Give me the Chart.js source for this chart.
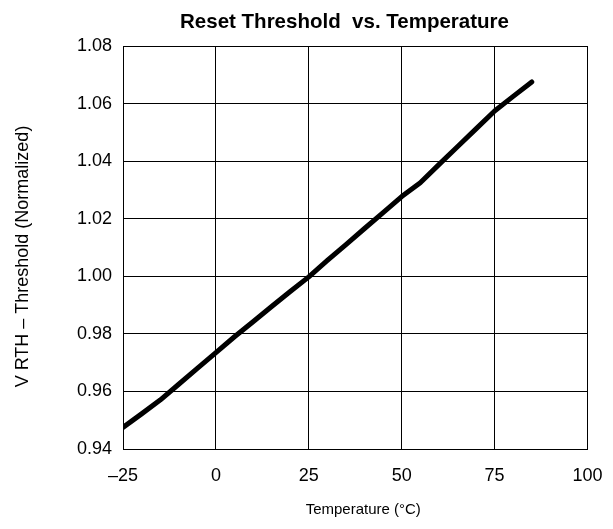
<!DOCTYPE html>
<html>
<head>
<meta charset="utf-8">
<script src="https://cdn.jsdelivr.net/npm/chart.js@4/dist/chart.umd.min.js"></script>
<style>
  html, body { margin: 0; padding: 0; background: #ffffff; }
  #wrap { width: 613px; height: 529px; position: relative; }
</style>
</head>
<body>
<div id="wrap"><canvas id="c" width="613" height="529"></canvas></div>
<script>
// ---- data ----
const chartTitle = 'Reset Threshold  vs. Temperature';
const xAxisTitle = 'Temperature (\u00B0C)';
const yAxisTitle = 'V RTH \u2013 Threshold (Normalized)';

const temperatures = [-25, -20, -15, -10, -5, 0, 5, 10, 15, 20, 25, 30, 35, 40, 45, 50, 55, 60, 65, 70, 75, 80, 85];
const thresholdNorm = [0.9475, 0.9522, 0.957, 0.9625, 0.968, 0.9735, 0.979, 0.9842, 0.9895, 0.9947, 0.9998, 1.0055, 1.011, 1.0166, 1.0221, 1.0277, 1.0325, 1.0388, 1.045, 1.0512, 1.0574, 1.0625, 1.0675];

const xTicks = [-25, 0, 25, 50, 75, 100];
const yTicks = [0.94, 0.96, 0.98, 1.00, 1.02, 1.04, 1.06, 1.08];

const points = temperatures.map((t, i) => ({ x: t, y: thresholdNorm[i] }));
const FONT = "'Liberation Sans', Arial, Helvetica, sans-serif";

// place the chart title and axis titles where the reference has them
const titleShift = {
  id: 'titleShift',
  afterLayout(chart) {
    const tb = chart.titleBlock;
    if (tb) {
      const w = tb.right - tb.left;
      const c = 344.5;
      tb.left = c - w / 2;
      tb.right = c + w / 2;
    }
    const wrap = (scale, dx, dy) => {
      if (!scale || scale._titleWrapped) return;
      const orig = scale.drawTitle;
      scale.drawTitle = function () {
        const ctx = this.ctx;
        ctx.save();
        ctx.translate(dx, dy);
        orig.apply(this, arguments);
        ctx.restore();
      };
      scale._titleWrapped = true;
    };
    wrap(chart.scales.x, 8, 0);
    wrap(chart.scales.y, 0, 9);
  }
};

new Chart(document.getElementById('c'), {
  type: 'line',
  data: {
    datasets: [{
      data: points,
      borderColor: '#000000',
      borderWidth: 5,
      pointRadius: 0,
      tension: 0,
      borderCapStyle: 'round',
      borderJoinStyle: 'round',
      fill: false
    }]
  },
  plugins: [titleShift],
  options: {
    responsive: false,
    animation: false,
    devicePixelRatio: 1,
    layout: { padding: { left: 0, right: 25.5, top: 0, bottom: 0 } },
    plugins: {
      legend: { display: false },
      tooltip: { enabled: false },
      title: {
        display: true,
        text: chartTitle,
        color: '#000000',
        font: { family: FONT, size: 20.5, weight: 'bold', lineHeight: 1.2 },
        padding: { top: 9.7, bottom: 11.7 }
      }
    },
    scales: {
      x: {
        type: 'linear',
        min: xTicks[0],
        max: xTicks[xTicks.length - 1],
        afterBuildTicks: (s) => { s.ticks = xTicks.map(v => ({ value: v })); },
        afterFit: (s) => { s.height = 80; s.paddingLeft = 0; s.paddingRight = 0; },
        grid: { color: '#000000', lineWidth: 1, drawTicks: false },
        border: { color: '#000000', width: 1 },
        ticks: {
          color: '#000000',
          padding: 16,
          maxRotation: 0,
          font: { family: FONT, size: 18 },
          callback: (v) => (v < 0 ? '\u2013' + Math.abs(v) : String(v))
        },
        title: {
          display: true,
          text: xAxisTitle,
          color: '#000000',
          font: { family: FONT, size: 15 },
          padding: { top: 0, bottom: 10 }
        }
      },
      y: {
        type: 'linear',
        min: yTicks[0],
        max: yTicks[yTicks.length - 1],
        afterBuildTicks: (s) => { s.ticks = yTicks.map(v => ({ value: v })); },
        afterFit: (s) => { s.width = 123; },
        grid: { color: '#000000', lineWidth: 1, drawTicks: false },
        border: { color: '#000000', width: 1 },
        ticks: {
          color: '#000000',
          padding: 11,
          font: { family: FONT, size: 18 },
          callback: (v) => Number(v).toFixed(2)
        },
        title: {
          display: true,
          text: yAxisTitle,
          color: '#000000',
          font: { family: FONT, size: 18 },
          padding: { top: 12.2, bottom: 0 }
        }
      }
    }
  }
});
</script>
</body>
</html>
